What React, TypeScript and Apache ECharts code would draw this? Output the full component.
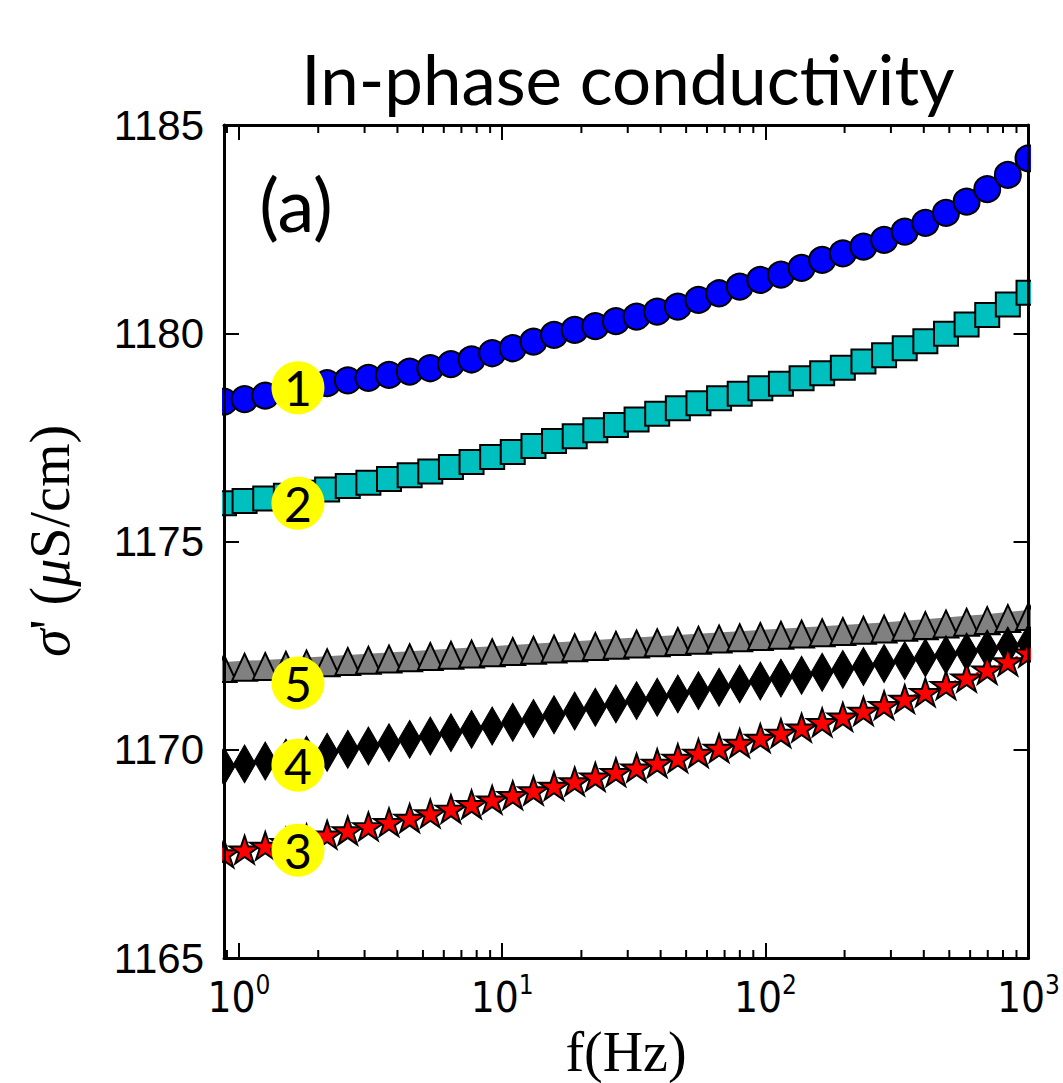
import React, { useEffect, useRef } from "react";
import * as echarts from "echarts";

// ---- data ----
const freq = [0.877, 1.05, 1.258, 1.507, 1.805, 2.162, 2.59, 3.102, 3.715, 4.451, 5.331, 6.387, 7.65, 9.162, 10.97, 13.15, 15.74, 18.86, 22.59, 27.05, 32.41, 38.82, 46.5, 55.69, 66.71, 79.9, 95.7, 114.6, 137.3, 164.4, 197.0, 235.9, 282.6, 338.5, 405.5, 485.7, 581.7, 696.7, 834.5, 1000];

const sigma1 = [1178.36, 1178.42, 1178.5, 1178.6, 1178.7, 1178.8, 1178.87, 1178.93, 1179.0, 1179.08, 1179.16, 1179.26, 1179.37, 1179.52, 1179.64, 1179.8, 1179.96, 1180.08, 1180.17, 1180.29, 1180.4, 1180.52, 1180.64, 1180.8, 1180.96, 1181.12, 1181.28, 1181.41, 1181.57, 1181.76, 1181.92, 1182.08, 1182.24, 1182.44, 1182.65, 1182.89, 1183.16, 1183.46, 1183.8, 1184.2];
const sigma2 = [1175.92, 1175.97, 1176.03, 1176.1, 1176.17, 1176.25, 1176.33, 1176.41, 1176.5, 1176.59, 1176.68, 1176.79, 1176.91, 1177.03, 1177.15, 1177.29, 1177.41, 1177.53, 1177.67, 1177.8, 1177.93, 1178.07, 1178.2, 1178.32, 1178.44, 1178.55, 1178.68, 1178.79, 1178.92, 1179.04, 1179.17, 1179.32, 1179.47, 1179.64, 1179.81, 1179.99, 1180.21, 1180.44, 1180.69, 1180.97];
const sigma3 = [1167.51, 1167.6, 1167.69, 1167.78, 1167.87, 1167.96, 1168.06, 1168.16, 1168.26, 1168.36, 1168.47, 1168.58, 1168.69, 1168.8, 1168.91, 1169.02, 1169.13, 1169.24, 1169.35, 1169.46, 1169.57, 1169.68, 1169.8, 1169.92, 1170.04, 1170.16, 1170.28, 1170.4, 1170.53, 1170.66, 1170.79, 1170.93, 1171.07, 1171.22, 1171.38, 1171.55, 1171.73, 1171.92, 1172.12, 1172.33];
const sigma4 = [1169.6, 1169.66, 1169.73, 1169.8, 1169.87, 1169.94, 1170.01, 1170.09, 1170.17, 1170.25, 1170.33, 1170.41, 1170.49, 1170.57, 1170.66, 1170.75, 1170.84, 1170.93, 1171.02, 1171.1, 1171.18, 1171.26, 1171.34, 1171.42, 1171.5, 1171.58, 1171.65, 1171.72, 1171.79, 1171.86, 1171.93, 1172.0, 1172.07, 1172.14, 1172.21, 1172.28, 1172.35, 1172.42, 1172.49, 1172.56];
const sigma5 = [1171.95, 1171.98, 1172.0, 1172.03, 1172.06, 1172.09, 1172.12, 1172.15, 1172.18, 1172.21, 1172.24, 1172.27, 1172.3, 1172.33, 1172.36, 1172.39, 1172.42, 1172.45, 1172.48, 1172.51, 1172.54, 1172.57, 1172.6, 1172.63, 1172.66, 1172.69, 1172.72, 1172.75, 1172.78, 1172.81, 1172.84, 1172.87, 1172.9, 1172.94, 1172.98, 1173.02, 1173.06, 1173.1, 1173.15, 1173.2];

const annotationLabels = ["1", "2", "5", "4", "3"];
const annotationValues = [1178.69, 1175.92, 1171.6, 1169.63, 1167.59];
const annotationFreq = 1.675;

const minorTickFreqs = [0.9, 2, 3, 4, 5, 6, 7, 8, 9, 20, 30, 40, 50, 60, 70, 80, 90, 200, 300, 400, 500, 600, 700, 800, 900];

const X_MIN = 0.877;
const X_MAX = 1000;
const Y_MIN = 1165;
const Y_MAX = 1185;
const Y_STEP = 5;

const TITLE = "In-phase conductivity";
const PANEL = "(a)";

const STAR =
  "path://M0,-1L0.2245,-0.309L0.951,-0.309L0.3633,0.118L0.5878,0.809L0,0.382L-0.5878,0.809L-0.3633,0.118L-0.951,-0.309L-0.2245,-0.309Z";

const pair = (ys: number[]) => freq.map((f, i) => [f, ys[i]]);

const isPow10 = (v: number) => Math.abs(Math.log10(v) - Math.round(Math.log10(v))) < 1e-6;

const NARROW = "'Liberation Sans Narrow', 'DejaVu Sans Condensed', 'Liberation Sans', sans-serif";

export default function App() {
  const ref = useRef<HTMLDivElement>(null);
  useEffect(() => {
    if (!ref.current) return;
    const chart = echarts.init(ref.current, undefined, { renderer: "svg" });
    const axisLine = { show: true, lineStyle: { color: "#000", width: 3 } };
    const tick = { show: true, inside: true, length: 15, lineStyle: { color: "#000", width: 2 } };
    const option: any = {
      animation: false,
      backgroundColor: "#fff",
      grid: { left: 224, right: 34, top: 125, bottom: 125, containLabel: false },
      xAxis: [
        {
          type: "log",
          logBase: 10,
          min: X_MIN,
          max: X_MAX,
          z: 10,
          axisLine,
          axisTick: tick,
          splitLine: { show: false },
          axisLabel: {
            margin: 14,
            formatter: (v: number) => (isPow10(v) ? `{b|10}{s|${Math.round(Math.log10(v))}}` : ""),
            rich: {
              b: { fontFamily: NARROW, fontSize: 42, color: "#000", verticalAlign: "bottom", lineHeight: 46 },
              s: { fontFamily: NARROW, fontSize: 26, color: "#000", verticalAlign: "top", lineHeight: 46 },
            },
          },
        },
        {
          type: "log",
          logBase: 10,
          position: "top",
          min: X_MIN,
          max: X_MAX,
          z: 10,
          axisLine,
          axisTick: tick,
          splitLine: { show: false },
          axisLabel: { show: false },
        },
      ],
      yAxis: [
        {
          type: "value",
          min: Y_MIN,
          max: Y_MAX,
          interval: Y_STEP,
          z: 10,
          axisLine,
          axisTick: tick,
          splitLine: { show: false },
          axisLabel: {
            fontFamily: "'Liberation Sans', sans-serif",
            fontSize: 42,
            color: "#000",
            margin: 20,
            formatter: (v: number) => String(v),
          },
        },
        {
          type: "value",
          position: "right",
          min: Y_MIN,
          max: Y_MAX,
          interval: Y_STEP,
          z: 10,
          axisLine,
          axisTick: tick,
          splitLine: { show: false },
          axisLabel: { show: false },
        },
      ],
      graphic: [
        { type: "rect", z: 5, shape: { x: 206, y: 110, width: 16, height: 860 }, style: { fill: "#fff" } },
        { type: "rect", z: 5, shape: { x: 1031, y: 110, width: 32, height: 860 }, style: { fill: "#fff" } },
        {
          type: "text",
          z: 20,
          x: 628,
          y: 78,
          style: { text: TITLE, fontFamily: "Lato", fontSize: 69, fill: "#000", align: "center", verticalAlign: "middle" },
        },
        {
          type: "text",
          z: 20,
          x: 296,
          y: 203,
          style: { text: PANEL, fontFamily: "Lato", fontSize: 74, fill: "#000", align: "center", verticalAlign: "middle" },
        },
        {
          type: "text",
          z: 20,
          x: 50,
          y: 541,
          rotation: Math.PI / 2,
          style: {
            text: "{i|σ}' ({i|μ}S/cm)",
            fontFamily: "Liberation Serif",
            fontSize: 56,
            fill: "#000",
            align: "center",
            verticalAlign: "middle",
            rich: { i: { fontFamily: "Liberation Serif", fontStyle: "italic", fontSize: 56, fill: "#000" } },
          },
        },
        {
          type: "text",
          z: 20,
          x: 626,
          y: 1052,
          style: { text: "f(Hz)", fontFamily: "Liberation Serif", fontSize: 56, fill: "#000", align: "center", verticalAlign: "middle" },
        },
      ],
      series: [
        {
          type: "custom",
          silent: true,
          z: 11,
          clip: false,
          data: minorTickFreqs.map((f) => [f, Y_MIN]),
          encode: { x: 0, y: 1 },
          renderItem: (_p: any, api: any) => {
            const f = api.value(0);
            const pb = api.coord([f, Y_MIN]);
            const pt = api.coord([f, Y_MAX]);
            return {
              type: "group",
              children: [
                { type: "line", shape: { x1: pb[0], y1: pb[1], x2: pb[0], y2: pb[1] - 8 }, style: { stroke: "#000", lineWidth: 2 } },
                { type: "line", shape: { x1: pt[0], y1: pt[1], x2: pt[0], y2: pt[1] + 8 }, style: { stroke: "#000", lineWidth: 2 } },
              ],
            };
          },
        },
        {
          type: "line",
          name: "1",
          data: pair(sigma1),
          symbol: "circle",
          symbolSize: 26,
          lineStyle: { color: "#0000ff", width: 2 },
          itemStyle: { color: "#0000ff", borderColor: "#000", borderWidth: 2 },
        },
        {
          type: "line",
          name: "2",
          data: pair(sigma2),
          symbol: "rect",
          symbolSize: 24,
          lineStyle: { color: "#00bfbf", width: 2 },
          itemStyle: { color: "#00bfbf", borderColor: "#000", borderWidth: 2 },
        },
        {
          type: "line",
          name: "5",
          data: pair(sigma5),
          symbol: "triangle",
          symbolSize: [25, 27],
          lineStyle: { color: "#808080", width: 13 },
          itemStyle: { color: "#808080", borderColor: "#000", borderWidth: 2 },
        },
        {
          type: "line",
          name: "4",
          data: pair(sigma4),
          symbol: "diamond",
          symbolSize: [22, 38],
          lineStyle: { color: "#000", width: 2 },
          itemStyle: { color: "#000", borderColor: "#000", borderWidth: 1 },
        },
        {
          type: "line",
          name: "3",
          data: pair(sigma3),
          symbol: STAR,
          symbolKeepAspect: true,
          symbolSize: [30, 29],
          lineStyle: { color: "#ff0000", width: 3, type: "dotted" },
          itemStyle: { color: "#ff0000", borderColor: "#000", borderWidth: 2 },
        },
        {
          type: "scatter",
          z: 12,
          data: annotationLabels.map((l, i) => [annotationFreq, annotationValues[i], l]),
          symbol: "circle",
          symbolSize: 53,
          itemStyle: { color: "#ffff00", opacity: 1 },
          label: {
            show: true,
            position: "inside",
            formatter: (p: any) => p.value[2],
            fontFamily: "Lato",
            fontSize: 48,
            color: "#000",
          },
        },
      ],
    };
    chart.setOption(option);
    return () => chart.dispose();
  }, []);
  return <div ref={ref} style={{ position: "fixed", left: 0, top: 0, width: 1063, height: 1083 }} />;
}
